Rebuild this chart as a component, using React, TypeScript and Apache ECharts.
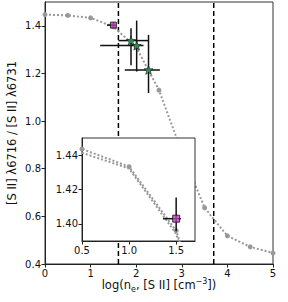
import React, { useEffect, useRef } from "react";
import * as echarts from "echarts";

// Model curve: [S II] ratio vs log density
const curveX = [0, 0.5, 1, 1.5, 2, 2.5, 3, 3.5, 4, 4.5, 5];
const curveY = [1.447, 1.4436, 1.4333, 1.396, 1.31, 1.13, 0.87, 0.636, 0.518, 0.472, 0.446];
// second (near-identical) model curve visible in the zoom inset
const curve2X = [0.5, 1, 1.5, 2];
const curve2Y = [1.4414, 1.4322, 1.3942, 1.305];

// Star measurements
const starX = [1.886, 2.01, 2.27];
const starY = [1.338, 1.317, 1.215];
const starXlo = [1.61, 1.21, 1.75];
const starXhi = [2.28, 2.16, 2.52];
const starYlo = [1.234, 1.208, 1.118];
const starYhi = [1.39, 1.422, 1.362];

// Square measurement
const sqX = [1.5];
const sqY = [1.403];
const sqXlo = [1.36];
const sqXhi = [1.55];
const sqYlo = [1.3957];
const sqYhi = [1.4154];

// Vertical dashed lines
const vlines = [1.61, 3.7];

const mainXTicks = [0, 1, 2, 3, 4, 5];
const mainYTicks = [0.4, 0.6, 0.8, 1.0, 1.2, 1.4];
const insetXTicks = [0.5, 1.0, 1.5];
const insetYTicks = [1.4, 1.42, 1.44];

const STAR =
  "path://M0,-10 L2.35,-3.24 L9.51,-3.09 L3.8,1.24 L5.88,8.09 L0,4 L-5.88,8.09 L-3.8,1.24 L-9.51,-3.09 L-2.35,-3.24 Z";

const FONT = "DejaVu Sans";

function errRender(params: any, api: any) {
  const x = api.value(0), y = api.value(1);
  const xl = api.coord([api.value(2), y]);
  const xh = api.coord([api.value(3), y]);
  const yl = api.coord([x, api.value(4)]);
  const yh = api.coord([x, api.value(5)]);
  const st = { stroke: "#111", lineWidth: 1.5 };
  return {
    type: "group",
    children: [
      { type: "line", shape: { x1: xl[0], y1: xl[1], x2: xh[0], y2: xh[1] }, style: st },
      { type: "line", shape: { x1: yl[0], y1: yl[1], x2: yh[0], y2: yh[1] }, style: st },
    ],
  };
}

export default function App() {
  const ref = useRef<HTMLDivElement>(null);
  useEffect(() => {
    const chart = echarts.init(ref.current!, null, { renderer: "svg" });
    const curve = curveX.map((x, i) => [x, curveY[i]]);
    const curve2 = curve2X.map((x, i) => [x, curve2Y[i]]);
    const stars = starX.map((x, i) => [x, starY[i]]);
    const starErr = starX.map((x, i) => [x, starY[i], starXlo[i], starXhi[i], starYlo[i], starYhi[i]]);
    const sq = sqX.map((x, i) => [x, sqY[i]]);
    const sqErr = sqX.map((x, i) => [x, sqY[i], sqXlo[i], sqXhi[i], sqYlo[i], sqYhi[i]]);

    const axisCommon = {
      axisLine: { show: true, onZero: false, lineStyle: { color: "#222", width: 1 } },
      axisTick: { show: true, length: 3.5, lineStyle: { color: "#222" } },
      splitLine: { show: false },
      axisLabel: { color: "#111", fontFamily: FONT, fontSize: 10, margin: 4 },
    };

    const option: any = {
      animation: false,
      grid: [
        { left: 45, right: 15, top: 2, bottom: 38, show: true, borderColor: "#333", borderWidth: 1 },
        { left: 82, right: 93, top: 138, bottom: 61 },
      ],
      xAxis: [
        {
          ...axisCommon,
          gridIndex: 0, type: "value", min: 0, max: 5,
          axisTick: { ...axisCommon.axisTick, customValues: mainXTicks },
          axisLabel: { ...axisCommon.axisLabel, customValues: mainXTicks, formatter: (v: number) => String(v) },
        },
        {
          ...axisCommon,
          gridIndex: 1, type: "value", min: 0.5, max: 1.7, z: 10,
          axisTick: { ...axisCommon.axisTick, customValues: insetXTicks },
          axisLabel: { ...axisCommon.axisLabel, customValues: insetXTicks, formatter: (v: number) => v.toFixed(1) },
        },
      ],
      yAxis: [
        {
          ...axisCommon,
          gridIndex: 0, type: "value", min: 0.4, max: 1.5,
          axisTick: { ...axisCommon.axisTick, customValues: mainYTicks },
          axisLabel: { ...axisCommon.axisLabel, customValues: mainYTicks, formatter: (v: number) => v.toFixed(1) },
        },
        {
          ...axisCommon,
          gridIndex: 1, type: "value", min: 1.39, max: 1.45, z: 10,
          axisTick: { ...axisCommon.axisTick, customValues: insetYTicks },
          axisLabel: { ...axisCommon.axisLabel, customValues: insetYTicks, formatter: (v: number) => v.toFixed(2) },
        },
      ],
      graphic: [
        {
          type: "rect", z: 5,
          shape: { x: 82, y: 138, width: 113, height: 103 },
          style: { fill: "#fff", stroke: "#333", lineWidth: 1 },
        },
        {
          type: "text", x: 12, y: 133, rotation: Math.PI / 2, z: 20,
          style: {
            text: "[S II] λ6716 / [S II] λ6731",
            font: `11.5px ${FONT}`, fill: "#111",
            textAlign: "center", textVerticalAlign: "middle",
          },
        },
        {
          type: "text", x: 159, y: 285, z: 20,
          style: {
            text: "log(n{sub|e}, [S II] [cm{sup|−3}])",
            font: `11.5px ${FONT}`, fill: "#111",
            textAlign: "center", textVerticalAlign: "middle",
            lineHeight: 16,
            rich: {
              sub: { fontSize: 8, fontFamily: FONT, verticalAlign: "bottom", lineHeight: 10, fill: "#111" },
              sup: { fontSize: 8, fontFamily: FONT, verticalAlign: "top", lineHeight: 10, fill: "#111" },
            },
          },
        },
      ],
      series: [
        ...vlines.map((v) => ({
          type: "line", xAxisIndex: 0, yAxisIndex: 0, z: 1,
          data: [[v, 0.4], [v, 1.5]], symbol: "none",
          lineStyle: { color: "#000", width: 1.5, type: [5, 3] },
        })),
        {
          type: "line", xAxisIndex: 0, yAxisIndex: 0, z: 2,
          data: curve, symbol: "circle", symbolSize: 5,
          itemStyle: { color: "#999" },
          lineStyle: { color: "#999", width: 2, type: [2, 2] },
        },
        {
          type: "custom", xAxisIndex: 0, yAxisIndex: 0, z: 3,
          data: starErr.concat(sqErr), renderItem: errRender,
        },
        {
          type: "scatter", xAxisIndex: 0, yAxisIndex: 0, z: 4,
          data: sq, symbol: "rect", symbolSize: 6,
          itemStyle: { color: "#bf3fbf", borderColor: "#111", borderWidth: 1 },
        },
        {
          type: "scatter", xAxisIndex: 0, yAxisIndex: 0, z: 4,
          data: stars, symbol: STAR, symbolSize: 9,
          itemStyle: { color: "#2fa55a", borderColor: "#111", borderWidth: 0.8 },
        },
        // inset
        {
          type: "line", xAxisIndex: 1, yAxisIndex: 1, z: 10,
          data: curve, symbol: "circle", symbolSize: 5,
          itemStyle: { color: "#999" },
          lineStyle: { color: "#999", width: 2, type: [2, 2] },
        },
        {
          type: "line", xAxisIndex: 1, yAxisIndex: 1, z: 10,
          data: curve2, symbol: "none",
          lineStyle: { color: "#999", width: 2, type: [2, 2] },
        },
        {
          type: "custom", xAxisIndex: 1, yAxisIndex: 1, z: 11,
          data: sqErr, renderItem: errRender,
        },
        {
          type: "scatter", xAxisIndex: 1, yAxisIndex: 1, z: 12,
          data: sq, symbol: "rect", symbolSize: 7,
          itemStyle: { color: "#bf3fbf", borderColor: "#111", borderWidth: 1 },
        },
      ],
    };
    chart.setOption(option);
    return () => chart.dispose();
  }, []);
  return <div ref={ref} style={{ width: 288, height: 302, position: "absolute", left: 0, top: 0 }} />;
}
